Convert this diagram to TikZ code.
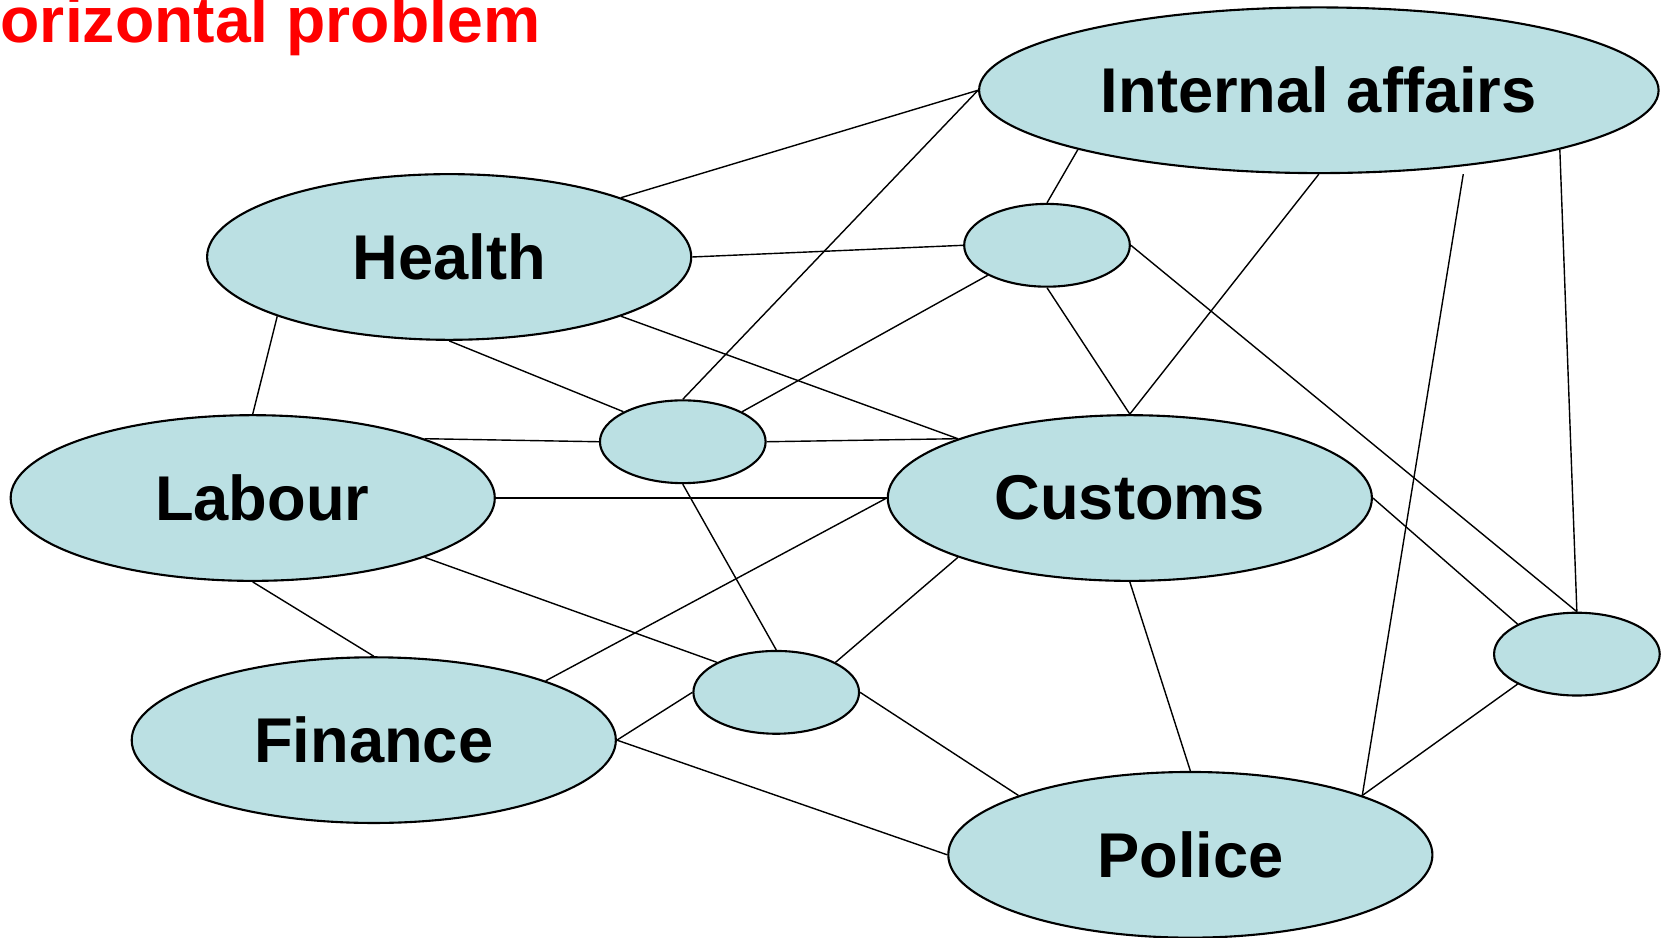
\documentclass[tikz,border=0pt]{standalone}
\usepackage{fontspec}
\setmainfont{Liberation Sans}
\usetikzlibrary{shapes.geometric}
\definecolor{PaleTeal}{RGB}{187,224,227}
\definecolor{TitleRed}{RGB}{255,0,0}

\tikzset{
  dept/.style={ellipse,draw=black,line width=0.6pt,fill=PaleTeal,inner sep=0pt,
    minimum width=4.842cm,minimum height=1.657cm,
    font=\fontsize{18}{20}\selectfont\bfseries},
  hub/.style={dept,minimum width=1.657cm,minimum height=0.828cm},
  link/.style={draw=black,line width=0.4pt}
}

\begin{document}
\begin{tikzpicture}[x=0.010619cm,y=-0.010619cm]
  \useasboundingbox (0,0) rectangle (1568,883);
  \node[anchor=base west,inner sep=0pt,text=TitleRed,font=\fontsize{18.3}{20}\selectfont\bfseries]
    (title) at (0,40) {orizontal problem};

  % departments
  \node[dept,minimum width=6.796cm] (internal) at (1242,85) {Internal affairs};
  \node[dept] (health)  at (423,242)  {Health};
  \node[dept] (labour)  at (238,469)  {\hspace*{0.19cm}Labour};
  \node[dept] (customs) at (1064,469) {Customs};
  \node[dept] (finance) at (352,697)  {Finance};
  \node[dept] (police)  at (1121,805) {Police};

  % unlabelled hubs
  \node[hub] (hub1) at (986,231) {};
  \node[hub] (hub2) at (643,416) {};
  \node[hub] (hub3) at (731,652) {};
  \node[hub] (hub4) at (1485,616) {};

  \coordinate (gap) at (1378,164);

  \foreach \a/\b in {internal.west/health.north east, internal.west/hub2.north,
      internal.south west/hub1.north, internal.south/customs.north,
      internal.south east/hub4.north, gap/police.north east,
      health.east/hub1.west, health.south/hub2.north west,
      health.south east/customs.north west, health.south west/labour.north,
      hub1.south west/hub2.north east, hub1.south/customs.north, hub1.east/hub4.north,
      labour.north east/hub2.west, hub2.east/customs.north west, labour.east/customs.west,
      hub2.south/hub3.north, labour.south east/hub3.north west, labour.south/finance.north,
      customs.west/finance.north east, customs.south west/hub3.north east,
      customs.east/hub4.north west, customs.south/police.north,
      finance.east/hub3.west, finance.east/police.west,
      hub3.east/police.north west, hub4.south west/police.north east}
    \draw[link] (\a) -- (\b);
\end{tikzpicture}
\end{document}
